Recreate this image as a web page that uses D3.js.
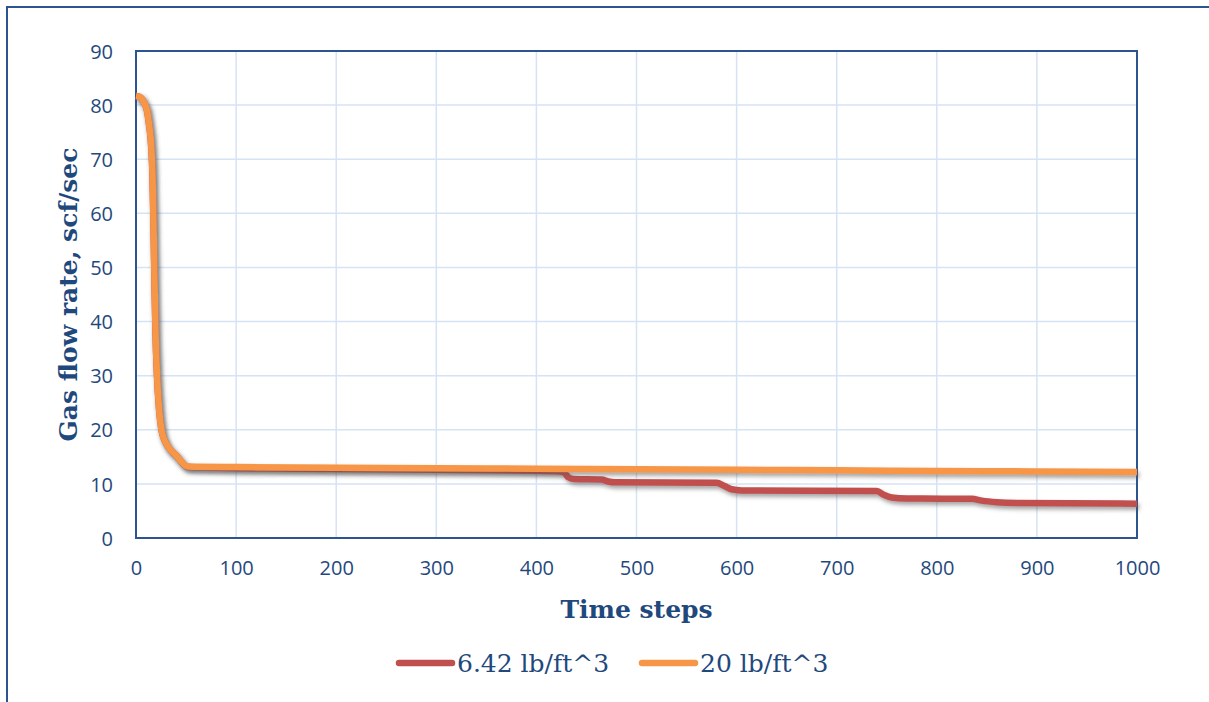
<!DOCTYPE html>
<html>
<head>
<meta charset="utf-8">
<script src="https://cdn.jsdelivr.net/npm/d3@7"></script>
<style>
  html, body { margin: 0; padding: 0; background: #fff; }
  svg { display: block; }
</style>
</head>
<body>
<div id="chart"></div>
<script>
// datos
var xTicks = [0, 100, 200, 300, 400, 500, 600, 700, 800, 900, 1000];
var yTicks = [0, 10, 20, 30, 40, 50, 60, 70, 80, 90];
var seriesNames = ["6.42 lb/ft^3", "20 lb/ft^3"];

var steps642 = [0, 4, 8, 11, 13, 15, 16.5, 17.5, 18.5, 19.5, 21, 23, 26, 30, 40, 52, 100, 200, 300, 420, 427, 432, 437, 465, 472, 478, 580, 588, 595, 605, 740, 747, 755, 770, 835, 845, 860, 880, 1000];
var flow642  = [81.7, 81.5, 80.5, 79, 76.5, 73, 67, 58, 47, 38, 30, 24, 19.5, 17.5, 15.3, 13.1, 12.9, 12.75, 12.6, 12.35, 12.2, 11.2, 10.9, 10.8, 10.45, 10.3, 10.2, 9.6, 9.0, 8.8, 8.7, 8.0, 7.5, 7.3, 7.25, 6.9, 6.6, 6.45, 6.35];

var steps20 = [0, 4, 8, 11, 13, 15, 16.5, 17.5, 18.5, 19.5, 21, 23, 26, 30, 40, 52, 100, 200, 300, 400, 500, 600, 700, 800, 900, 1000];
var flow20  = [81.7, 81.5, 80.5, 79, 76.5, 73, 67, 58, 47, 38, 30, 24, 19.5, 17.5, 15.3, 13.2, 13.1, 13.0, 12.9, 12.8, 12.7, 12.6, 12.5, 12.4, 12.3, 12.2];

var width = 1209;
var height = 702;
var margin = {left: 136, top: 51, right: 72, bottom: 164};

var textColor = "#1F497D";
var frameColor = "#2C5590";
var colors = ["#C0504D", "#F79646"];

var svg = d3.select("#chart").append("svg")
    .attr("width", width)
    .attr("height", height);

// sombra de las lineas
var defs = svg.append("defs");
defs.append("filter")
    .attr("id", "shadow")
    .attr("x", "-10%").attr("y", "-10%")
    .attr("width", "120%").attr("height", "130%")
    .append("feDropShadow")
    .attr("dx", 2).attr("dy", 3)
    .attr("stdDeviation", 2)
    .attr("flood-color", "#555")
    .attr("flood-opacity", 0.55);

// marco exterior (solo izquierda y arriba)
svg.append("path")
    .attr("d", "M7,702 V7 H1209")
    .attr("fill", "none")
    .attr("stroke", frameColor)
    .attr("stroke-width", 2);

var x = d3.scaleLinear().domain([0, 1000]).range([margin.left, width - margin.right]);
var y = d3.scaleLinear().domain([0, 90]).range([height - margin.bottom, margin.top]);

// cuadricula
svg.append("g").selectAll("line.v")
    .data(xTicks.slice(1, -1))
    .enter().append("line")
    .attr("x1", function(d) { return x(d); })
    .attr("x2", function(d) { return x(d); })
    .attr("y1", y(0)).attr("y2", y(90))
    .attr("stroke", "#D6E3F4")
    .attr("stroke-width", 1.5);

svg.append("g").selectAll("line.h")
    .data(yTicks.slice(1, -1))
    .enter().append("line")
    .attr("x1", x(0)).attr("x2", x(1000))
    .attr("y1", function(d) { return y(d); })
    .attr("y2", function(d) { return y(d); })
    .attr("stroke", "#D6E3F4")
    .attr("stroke-width", 1.5);

// ejes
var xAxis = svg.append("g")
    .attr("transform", "translate(0," + y(0) + ")")
    .call(d3.axisBottom(x).tickValues(xTicks).tickFormat(d3.format("d")).tickSize(0).tickPadding(23));

var yAxis = svg.append("g")
    .attr("transform", "translate(" + x(0) + ",0)")
    .call(d3.axisLeft(y).tickValues(yTicks).tickFormat(d3.format("d")).tickSize(0).tickPadding(23));

[xAxis, yAxis].forEach(function(g) {
    g.select(".domain").remove();
    g.selectAll("text")
        .attr("fill", textColor)
        .style("font-family", "'Open Sans', sans-serif")
        .style("font-size", "20px");
});
yAxis.selectAll("text").attr("dy", "0.36em");

// borde del area de trazado
svg.append("rect")
    .attr("x", x(0)).attr("y", y(90))
    .attr("width", x(1000) - x(0))
    .attr("height", y(0) - y(90))
    .attr("fill", "none")
    .attr("stroke", frameColor)
    .attr("stroke-width", 2);

// lineas
var line = d3.line()
    .x(function(d) { return x(d[0]); })
    .y(function(d) { return y(d[1]); })
    .curve(d3.curveMonotoneX);

var series = [
    d3.zip(steps642, flow642),
    d3.zip(steps20, flow20)
];

svg.append("g").selectAll("path")
    .data(series)
    .enter().append("path")
    .attr("d", line)
    .attr("fill", "none")
    .attr("stroke", function(d, i) { return colors[i]; })
    .attr("stroke-width", 6.5)
    .attr("stroke-linejoin", "round")
    .attr("filter", "url(#shadow)");

// titulos de ejes
svg.append("text")
    .attr("x", (x(0) + x(1000)) / 2)
    .attr("y", 618)
    .attr("text-anchor", "middle")
    .attr("fill", textColor)
    .style("font-family", "'DejaVu Serif', serif")
    .style("font-weight", "bold")
    .style("font-size", "25px")
    .text("Time steps");

svg.append("text")
    .attr("transform", "translate(77," + ((y(0) + y(90)) / 2) + ") rotate(-90)")
    .attr("text-anchor", "middle")
    .attr("fill", textColor)
    .style("font-family", "'DejaVu Serif', serif")
    .style("font-weight", "bold")
    .style("font-size", "25px")
    .text("Gas flow rate, scf/sec");

// leyenda
var legend = svg.append("g").selectAll("g")
    .data(seriesNames)
    .enter().append("g")
    .attr("transform", function(d, i) { return "translate(" + (399 + i * 243) + ",663)"; });

legend.append("line")
    .attr("x1", 0).attr("x2", 53)
    .attr("stroke", function(d, i) { return colors[i]; })
    .attr("stroke-width", 6.5)
    .attr("stroke-linecap", "round");

legend.append("text")
    .attr("x", 58)
    .attr("y", 9)
    .attr("fill", textColor)
    .style("font-family", "'DejaVu Serif', serif")
    .style("font-size", "25px")
    .text(function(d) { return d; });
</script>
</body>
</html>
